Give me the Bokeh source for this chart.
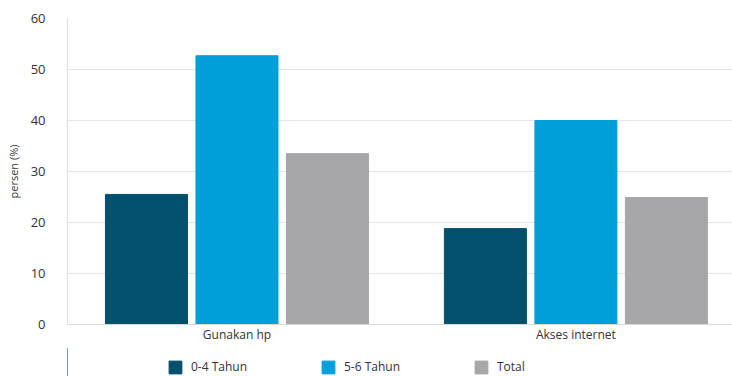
from bokeh.plotting import figure
from bokeh.layouts import column
from bokeh.models import Range1d, Legend, LegendItem, FixedTicker, ColumnDataSource
from bokeh.embed import file_html
from bokeh.resources import INLINE

categories = ["Gunakan hp", "Akses internet"]
series_names = ["0-4 Tahun", "5-6 Tahun", "Total"]
v_04 = [25.5, 18.8]
v_56 = [52.7, 40.0]
v_total = [33.5, 24.9]
colors = ["#02506b", "#00a0da", "#a7a7a9"]
yticks = [0, 10, 20, 30, 40, 50, 60]

FONT = "Open Sans"

p = figure(width=732, height=348, output_backend="svg", toolbar_location=None,
           x_range=Range1d(0, 1.962), y_range=Range1d(0, 60),
           min_border_left=67, min_border_right=0, min_border_top=18, min_border_bottom=24)
p.outline_line_color = None
p.background_fill_color = "white"
p.border_fill_color = "white"

offsets = [-0.267, 0.0, 0.267]
bw = 0.242
for vals, off, col in zip([v_04, v_56, v_total], offsets, colors):
    src = ColumnDataSource(dict(x=[i + 0.5 + off for i in range(len(categories))], top=vals))
    p.vbar(x="x", top="top", width=bw, bottom=0, source=src,
           fill_color=col, line_color=col, line_width=1)

p.xaxis.ticker = FixedTicker(ticks=[0.5, 1.5])
p.xaxis.major_label_overrides = {0.5: categories[0], 1.5: categories[1]}
p.xaxis.major_tick_line_color = None
p.xaxis.major_tick_out = 0
p.xaxis.major_tick_in = 0
p.xaxis.minor_tick_line_color = None
p.xaxis.axis_line_color = "#d9d9d9"
p.xaxis.major_label_text_font = FONT
p.xaxis.major_label_text_font_size = "12px"
p.xaxis.major_label_text_color = "#333333"
p.xaxis.major_label_standoff = 1
p.xgrid.grid_line_color = None

p.yaxis.ticker = FixedTicker(ticks=yticks)
p.yaxis.major_tick_line_color = None
p.yaxis.major_tick_out = 0
p.yaxis.major_tick_in = 0
p.yaxis.minor_tick_line_color = None
p.yaxis.axis_line_color = "#e0e0e0"
p.yaxis.major_label_text_font = FONT
p.yaxis.major_label_text_font_size = "13px"
p.yaxis.major_label_text_color = "#333333"
p.yaxis.major_label_standoff = 22
p.yaxis.axis_label = "persen (%)"
p.yaxis.axis_label_text_font = FONT
p.yaxis.axis_label_text_font_size = "11px"
p.yaxis.axis_label_text_font_style = "normal"
p.yaxis.axis_label_text_color = "#333333"
p.yaxis.axis_label_standoff = 7
p.ygrid.grid_line_color = "#e6e6e6"

# legend strip below the chart (its renderers sit outside the visible range)
p2 = figure(width=732, height=28, output_backend="svg", toolbar_location=None,
            x_range=Range1d(0, 1), y_range=Range1d(0, 1),
            min_border_left=0, min_border_right=0, min_border_top=0, min_border_bottom=0)
p2.axis.visible = False
p2.grid.grid_line_color = None
p2.outline_line_color = None
leg_renderers = []
for col in colors:
    r = p2.vbar(x=[-10], top=[1], bottom=0, width=0.1, fill_color=col, line_color=col)
    leg_renderers.append(r)

legend = Legend(items=[LegendItem(label=n, renderers=[r]) for n, r in zip(series_names, leg_renderers)],
                orientation="horizontal", location=(100, 1),
                glyph_width=16, glyph_height=16, label_standoff=8, label_width=129,
                spacing=0, padding=0, margin=0, border_line_color=None,
                background_fill_alpha=0,
                label_text_font=FONT, label_text_font_size="12px", label_text_color="#333333")
p2.add_layout(legend, "center")

layout = column(p, p2, spacing=0)
open("out.html", "w").write(file_html(layout, INLINE))
